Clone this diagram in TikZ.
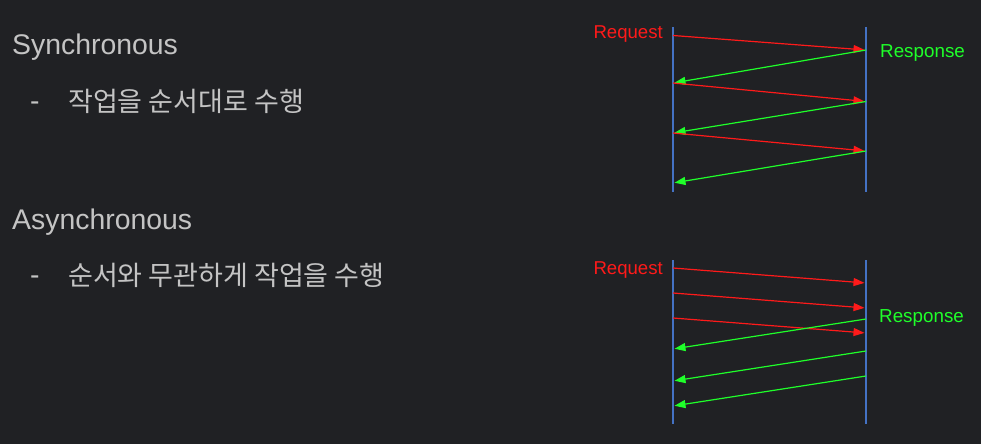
\documentclass[tikz,border=0pt]{standalone}
\usepackage{fontspec}
\setmainfont{Liberation Sans}
\newfontfamily\krfont{Noto Sans CJK KR}
\usetikzlibrary{arrows.meta}
\definecolor{bg}{HTML}{202124}
\definecolor{txt}{HTML}{C4C4C4}
\definecolor{lane}{HTML}{4472C4}
\definecolor{reqred}{HTML}{FF1A1A}
\definecolor{resgreen}{HTML}{1FFF2A}

\tikzset{
  heading/.style={anchor=base west,inner sep=0pt,text=txt,font=\fontsize{28.4}{28.4}\selectfont},
  bullet/.style={anchor=base west,inner sep=0pt,text=txt,font=\fontsize{27}{27}\selectfont\krfont},
  lifeline/.style={draw=lane,line width=2.6pt},
  req/.style={draw=reqred,line width=1.2pt,-{Triangle[length=11pt,width=8pt]},shorten >=1.5pt},
  res/.style={draw=resgreen,line width=1.2pt,-{Triangle[length=11pt,width=8pt]},shorten >=1.5pt},
  reqlabel/.style={anchor=base east,inner sep=0pt,text=reqred,font=\fontsize{18.6}{18.6}\selectfont},
  reslabel/.style={anchor=base west,inner sep=0pt,text=resgreen,font=\fontsize{18.8}{18.8}\selectfont}
}

\begin{document}
\begin{tikzpicture}[x=1pt,y=-1pt]
  \fill[bg] (0,0) rectangle (981,444);
  \useasboundingbox (0,0) rectangle (981,444);

  % left column text
  \node[heading] (sync) at (12,54) {Synchronous};
  \node[heading] (syncdash) at (30,110) {-};
  \node[bullet] (syncdesc) at (68,111) {작업을 순서대로 수행};
  \node[heading] (async) at (12,229) {Asynchronous};
  \node[heading] (asyncdash) at (30,284) {-};
  \node[bullet] (asyncdesc) at (68,285) {순서와 무관하게 작업을 수행};

  % synchronous lifelines
  \coordinate (sLtop) at (673,27);  \coordinate (sLbot) at (673,192);
  \coordinate (sRtop) at (866,27);  \coordinate (sRbot) at (866,192);
  \draw[lifeline] (sLtop) -- (sLbot);
  \draw[lifeline] (sRtop) -- (sRbot);

  \coordinate (sL1) at (673,35.5); \coordinate (sR1) at (866,50);
  \coordinate (sL2) at (673,83);   \coordinate (sR2) at (866,101.5);
  \coordinate (sL3) at (673,133);  \coordinate (sR3) at (866,151);
  \coordinate (sL4) at (673,183);
  \draw[req] (sL1) -- (sR1);
  \draw[res] (sR1) -- (sL2);
  \draw[req] (sL2) -- (sR2);
  \draw[res] (sR2) -- (sL3);
  \draw[req] (sL3) -- (sR3);
  \draw[res] (sR3) -- (sL4);

  \node[reqlabel] (sreq) at (663,39) {Request};
  \node[reslabel] (sres) at (880,58) {Response};

  % asynchronous lifelines
  \coordinate (aLtop) at (673,260); \coordinate (aLbot) at (673,424);
  \coordinate (aRtop) at (866,260); \coordinate (aRbot) at (866,424);
  \draw[lifeline] (aLtop) -- (aLbot);
  \draw[lifeline] (aRtop) -- (aRbot);

  \coordinate (aL1) at (673,268);  \coordinate (aR1) at (866,283);
  \coordinate (aL2) at (673,293);  \coordinate (aR2) at (866,308);
  \coordinate (aL3) at (673,318);  \coordinate (aR3) at (866,333);
  \coordinate (aR4) at (866,319);  \coordinate (aL4) at (673,349);
  \coordinate (aR5) at (866,351);  \coordinate (aL5) at (673,381);
  \coordinate (aR6) at (866,376);  \coordinate (aL6) at (673,406);
  \draw[req] (aL1) -- (aR1);
  \draw[req] (aL2) -- (aR2);
  \draw[req] (aL3) -- (aR3);
  \draw[res] (aR4) -- (aL4);
  \draw[res] (aR5) -- (aL5);
  \draw[res] (aR6) -- (aL6);

  \node[reqlabel] (areq) at (663,274) {Request};
  \node[reslabel] (ares) at (879,322) {Response};
\end{tikzpicture}
\end{document}
